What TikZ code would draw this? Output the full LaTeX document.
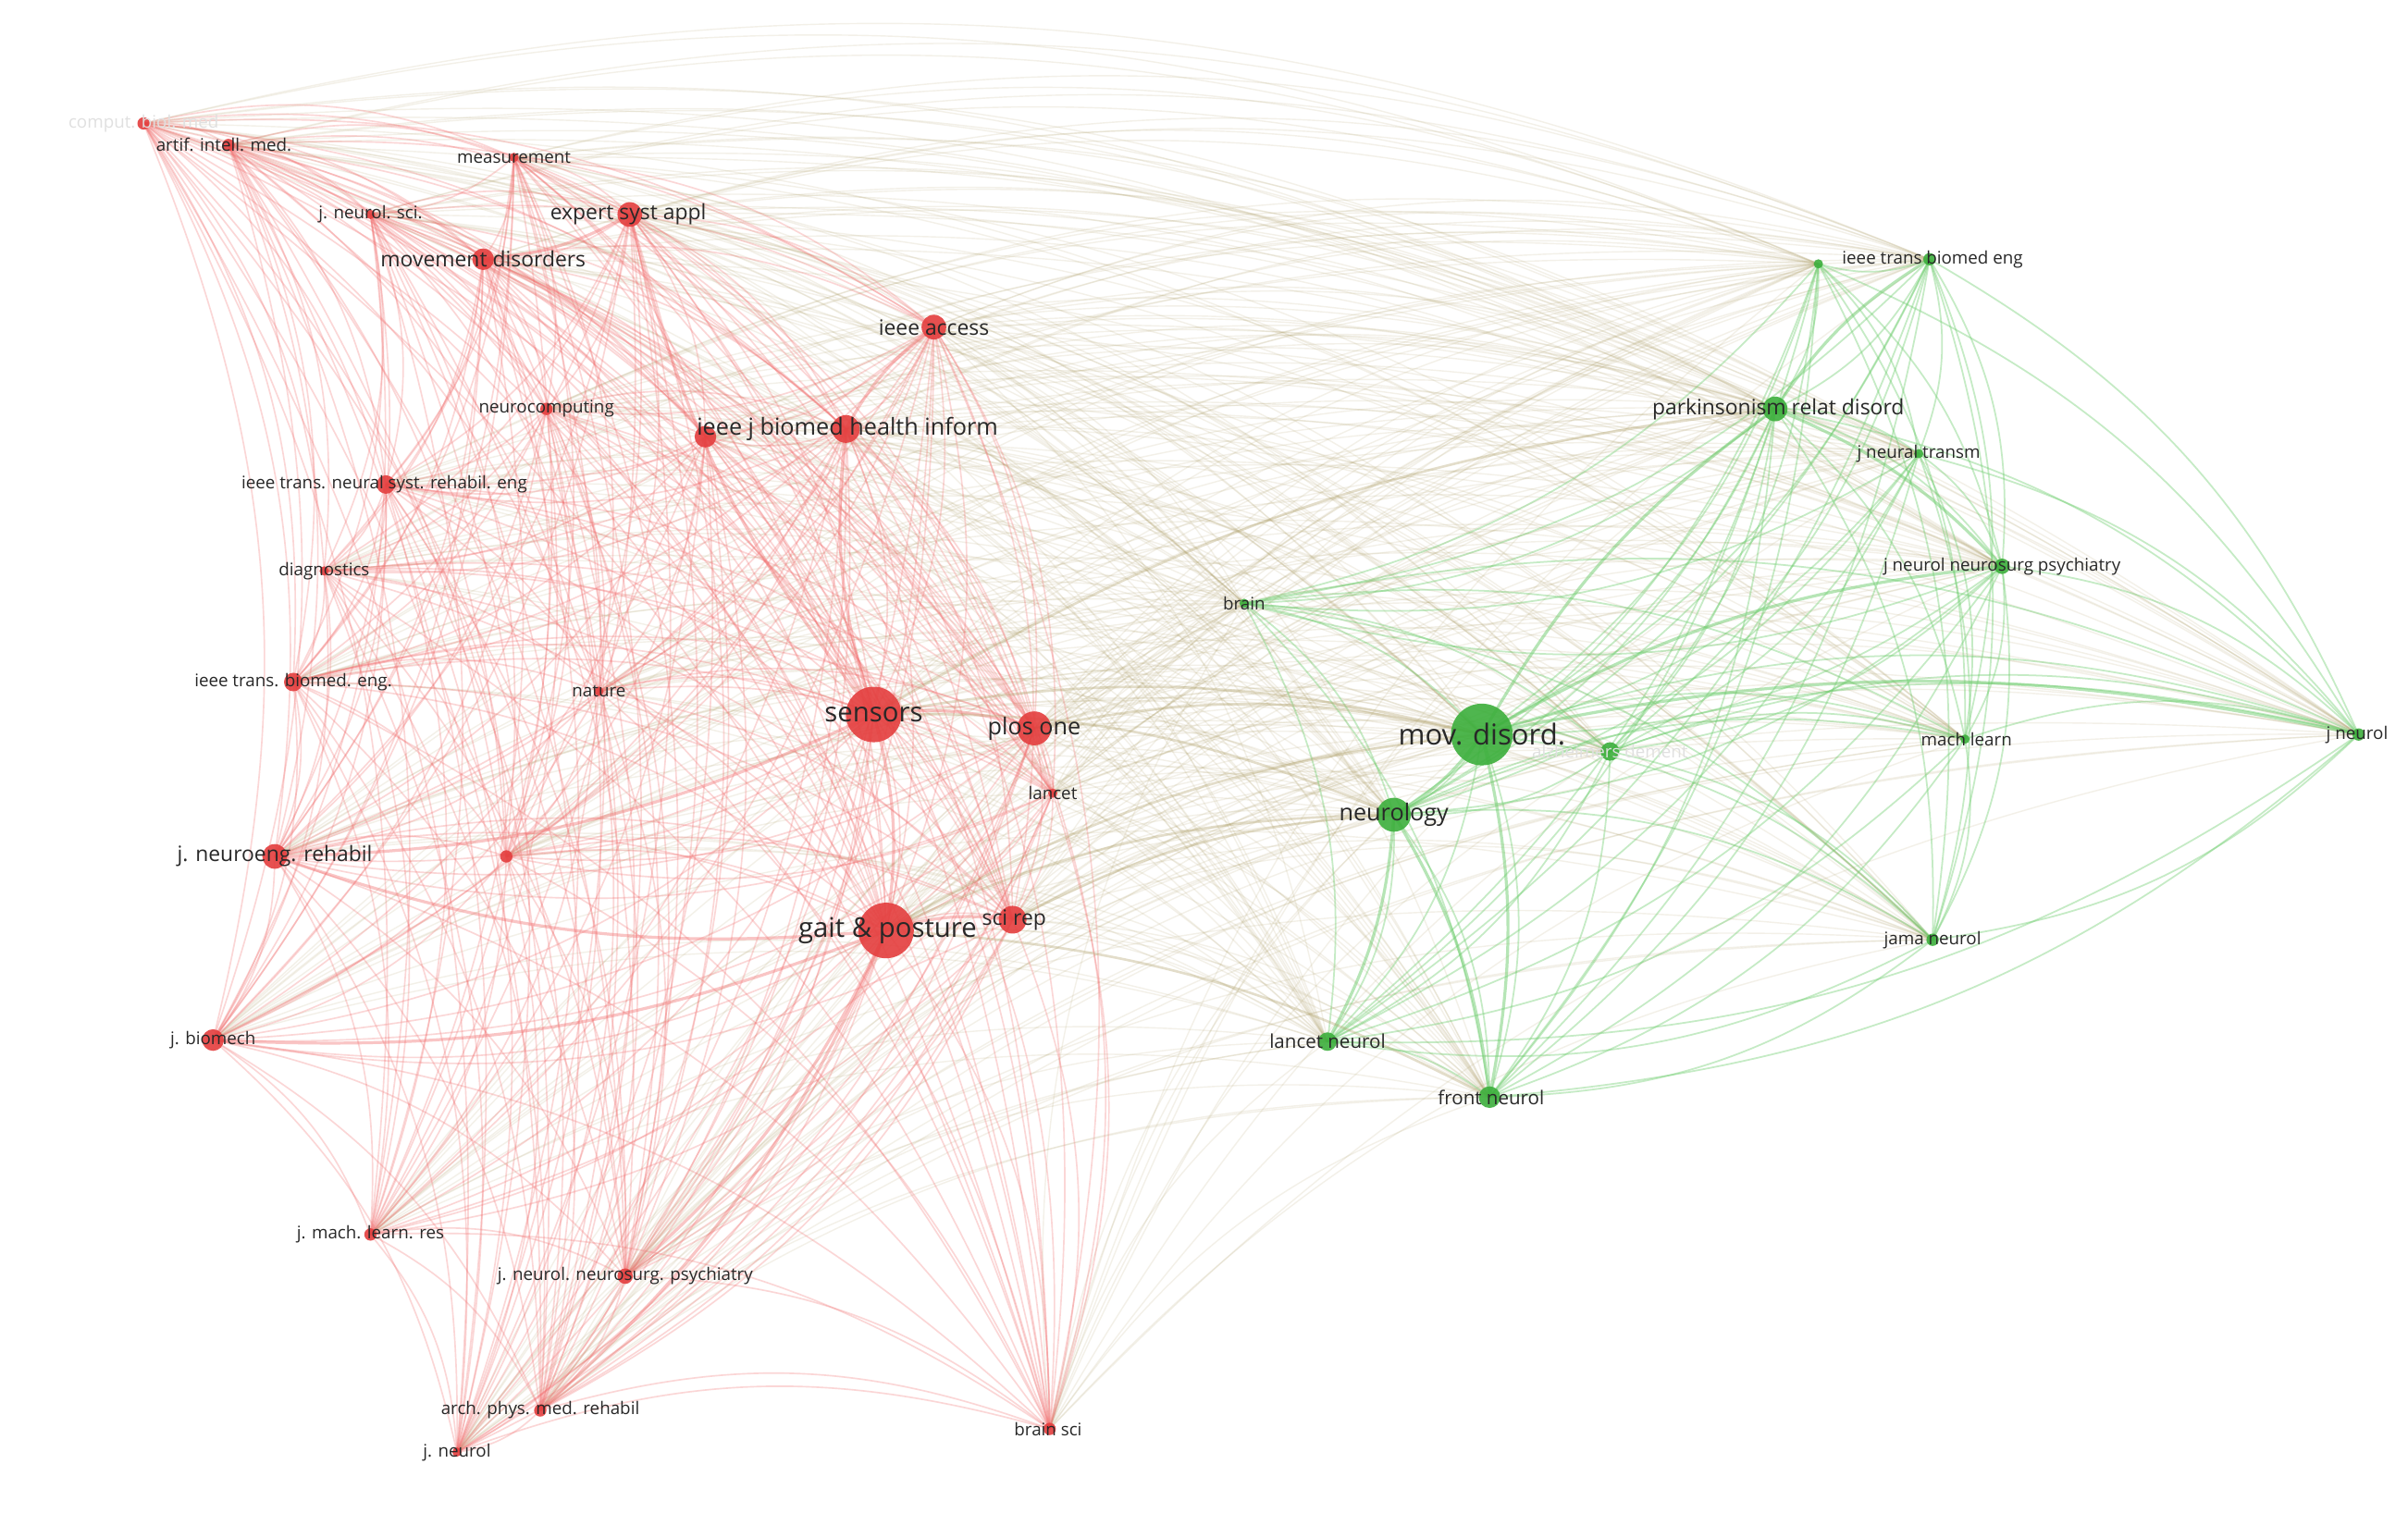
\documentclass[tikz,border=0pt]{standalone}
\usepackage{fontspec}
\setmainfont{Open Sans}
\definecolor{rn}{RGB}{228,62,62}
\definecolor{gn}{RGB}{60,175,60}
\definecolor{re}{RGB}{242,110,110}
\definecolor{ge}{RGB}{110,205,110}
\definecolor{ce}{RGB}{175,160,105}
\definecolor{lab}{RGB}{40,40,40}
\begin{document}
\begin{tikzpicture}[x=0.01cm,y=-0.01cm,
  lbs/.style={text=lab,font=\fontsize{3.2}{3.2}\selectfont,inner sep=0pt},
  lbm/.style={text=lab,font=\fontsize{3.9}{3.9}\selectfont,inner sep=0pt},
  lbl/.style={text=lab,font=\fontsize{5}{5}\selectfont,inner sep=0pt},
  lbf/.style={text=black!12,font=\fontsize{3.2}{3.2}\selectfont,inner sep=0pt},
  rline/.style={re,line width=0.28pt,opacity=0.28},
  gline/.style={ge,line width=0.3pt,opacity=0.4},
  cline/.style={ce,line width=0.24pt,opacity=0.15}]
\useasboundingbox (0,0) rectangle (1560,980);
\fill[white] (0,0) rectangle (1560,980);
% red coordinates
\coordinate (cbm) at (93,80);
\coordinate (aim) at (148,94);
\coordinate (mea) at (333,102);
\coordinate (jns) at (240,139);
\coordinate (esa) at (408,139);
\coordinate (mvd) at (313,168);
\coordinate (iac) at (605,212);
\coordinate (nco) at (354,265);
\coordinate (ijb) at (548,278);
\coordinate (ijx) at (457,283);
\coordinate (itn) at (250,314);
\coordinate (dia) at (210,370);
\coordinate (itb) at (190,442);
\coordinate (nat) at (388,448);
\coordinate (sen) at (566,463);
\coordinate (plo) at (670,472);
\coordinate (lan) at (682,514);
\coordinate (jnr) at (178,555);
\coordinate (unx) at (328,555);
\coordinate (gap) at (574,603);
\coordinate (sci) at (656,596);
\coordinate (jbi) at (138,674);
\coordinate (jml) at (240,800);
\coordinate (jnn) at (405,827);
\coordinate (apm) at (350,914);
\coordinate (jnl) at (296,941);
\coordinate (bsc) at (680,926);
% green coordinates
\coordinate (gtb) at (1250,168);
\coordinate (gtx) at (1178,171);
\coordinate (prd) at (1150,265);
\coordinate (jnt) at (1243,294);
\coordinate (gjn) at (1297,367);
\coordinate (bra) at (806,391);
\coordinate (mov) at (960,476);
\coordinate (alz) at (1043,487);
\coordinate (neu) at (903,528);
\coordinate (mac) at (1273,479);
\coordinate (gjl) at (1528,476);
\coordinate (jam) at (1252,609);
\coordinate (lnl) at (860,675);
\coordinate (frn) at (965,711);
% edges
\def\reds{cbm,aim,mea,jns,esa,mvd,iac,nco,ijb,ijx,itn,dia,itb,nat,sen,plo,lan,jnr,unx,gap,sci,jbi,jml,jnn,apm,jnl,bsc}
\def\greens{gtb,gtx,prd,jnt,gjn,bra,mov,alz,neu,mac,gjl,jam,lnl,frn}
\foreach \a [count=\i] in \reds {
  \foreach \b [count=\j] in \greens {
    \draw[cline] (\a) to[bend left=18] (\b);
  }
}
\foreach \a [count=\i] in \reds {
  \foreach \b [count=\j] in \reds {
    \ifnum\j>\i \draw[rline] (\a) to[bend left=18] (\b); \fi
  }
}
\foreach \a [count=\i] in \greens {
  \foreach \b [count=\j] in \greens {
    \ifnum\j>\i \draw[gline] (\a) to[bend left=18] (\b); \fi
  }
}
% extra emphasised links
\foreach \a/\b in {sen/gap,sen/ijb,gap/sci,sen/plo,gap/jnr,sen/jnr,gap/jnn,gap/apm,esa/mvd,ijb/iac,sen/esa,gap/jbi}
  \draw[re,line width=0.55pt,opacity=0.4] (\a) to[bend left=12] (\b);
\foreach \a/\b in {mov/neu,mov/prd,neu/frn,neu/lnl,mov/frn,prd/gtb,mov/gjn,mov/gjl,prd/gjn}
  \draw[ge,line width=0.55pt,opacity=0.5] (\a) to[bend left=12] (\b);
\foreach \a/\b in {sen/mov,gap/mov,gap/neu,sen/neu,plo/mov,sci/neu,sen/prd,gap/frn}
  \draw[ce,line width=0.45pt,opacity=0.35] (\a) to[bend left=12] (\b);
% red nodes
\foreach \c/\r in {cbm/4,aim/4,mea/3,jns/3,esa/8,mvd/7,iac/8,nco/4,ijb/9,ijx/7,itn/6,dia/3,itb/6,nat/3,sen/18,plo/11,lan/3,jnr/8,unx/4,gap/18,sci/9,jbi/7,jml/4,jnn/5,apm/4,jnl/3,bsc/4}
  \fill[rn,opacity=0.9] (\c) circle (\r);
\foreach \c/\r in {gtb/4,gtx/3,prd/8,jnt/3,gjn/5,bra/3,mov/20,alz/6,neu/11,mac/3,gjl/4,jam/4,lnl/6,frn/7}
  \fill[gn,opacity=0.9] (\c) circle (\r);
% labels
\node[lbf] (Lcbm) at (cbm) {comput. biol. med};
\node[lbs] (Laim) at (145,94) {artif. intell. med.};
\node[lbs] (Lmea) at (333,102) {measurement};
\node[lbs] (Ljns) at (240,139) {j. neurol. sci.};
\node[lbm] (Lesa) at (407,139) {expert syst appl};
\node[lbm] (Lmvd) at (313,168) {movement disorders};
\node[lbm] (Liac) at (605,212) {ieee access};
\node[lbs] (Lnco) at (354,265) {neurocomputing};
\node[lbl,font=\fontsize{4.3}{4.3}\selectfont] (Lijb) at (549,278) {ieee j biomed health inform};
\node[lbs] (Litn) at (249,314) {ieee trans. neural syst. rehabil. eng};
\node[lbs] (Ldia) at (210,370) {diagnostics};
\node[lbs] (Litb) at (190,442) {ieee trans. biomed. eng.};
\node[lbs] (Lnat) at (388,448) {nature};
\node[lbl] (Lsen) at (566,463) {sensors};
\node[lbl,font=\fontsize{4.3}{4.3}\selectfont] (Lplo) at (670,472) {plos one};
\node[lbs] (Llan) at (682,514) {lancet};
\node[lbm] (Ljnr) at (178,555) {j. neuroeng. rehabil};
\node[lbl] (Lgap) at (575,603) {gait \& posture};
\node[lbm] (Lsci) at (657,596) {sci rep};
\node[lbs] (Ljbi) at (138,674) {j. biomech};
\node[lbs] (Ljml) at (240,800) {j. mach. learn. res};
\node[lbs] (Ljnn) at (405,827) {j. neurol. neurosurg. psychiatry};
\node[lbs] (Lapm) at (350,914) {arch. phys. med. rehabil};
\node[lbs] (Ljnl) at (296,941) {j. neurol};
\node[lbs] (Lbsc) at (679,926) {brain sci};
\node[lbs] (Lgtb) at (1252,168) {ieee trans biomed eng};
\node[lbm] (Lprd) at (1152,265) {parkinsonism relat disord};
\node[lbs] (Ljnt) at (1243,294) {j neural transm};
\node[lbs] (Lgjn) at (1297,367) {j neurol neurosurg psychiatry};
\node[lbs] (Lbra) at (806,391) {brain};
\node[lbl,font=\fontsize{5.3}{5.3}\selectfont] (Lmov) at (960,476) {mov. disord.};
\node[lbf] (Lalz) at (1043,487) {alzheimers dement};
\node[lbm,font=\fontsize{4.3}{4.3}\selectfont] (Lneu) at (903,528) {neurology};
\node[lbs] (Lmac) at (1274,479) {mach learn};
\node[lbs] (Lgjl) at (1527,476) {j neurol};
\node[lbs] (Ljam) at (1252,609) {jama neurol};
\node[lbm,font=\fontsize{3.5}{3.5}\selectfont] (Llnl) at (860,675) {lancet neurol};
\node[lbm,font=\fontsize{3.5}{3.5}\selectfont] (Lfrn) at (966,711) {front neurol};
\end{tikzpicture}
\end{document}
